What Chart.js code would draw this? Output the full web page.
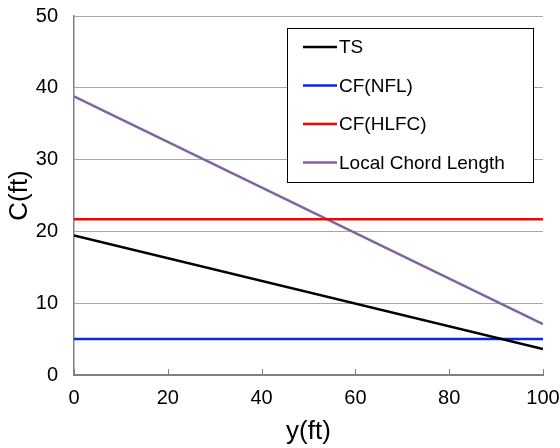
<!DOCTYPE html>
<html>
<head>
<meta charset="utf-8">
<script src="https://cdn.jsdelivr.net/npm/chart.js@4/dist/chart.umd.min.js"></script>
<style>
  html, body { margin: 0; padding: 0; background: #fff; }
  canvas { display: block; }
</style>
</head>
<body>
<canvas id="grafico" width="560" height="448"></canvas>
<script>
// Datos: posición a lo largo de la envergadura y(ft) y cuerdas C(ft)
const posicionY = [0, 100];
const cuerdaTS = [19.45, 3.6];
const cuerdaNFL = [5, 5];
const cuerdaHLFC = [21.7, 21.7];
const cuerdaLocal = [38.8, 7.1];

const etiquetas = ['TS', 'CF(NFL)', 'CF(HLFC)', 'Local Chord Length'];
const colores = ['#000000', '#0a28e6', '#ff0000', '#8064a2'];
const series = [cuerdaTS, cuerdaNFL, cuerdaHLFC, cuerdaLocal];

const fuente = 'Arial, "Liberation Sans", sans-serif';

// Marcas de graduación del eje x hacia dentro del gráfico
const marcasInternas = {
    id: 'marcasInternas',
    afterDatasetsDraw(chart) {
        const { ctx, scales: { x }, chartArea } = chart;
        ctx.save();
        ctx.strokeStyle = '#808080';
        ctx.lineWidth = 1;
        x.ticks.forEach(t => {
            const px = Math.round(x.getPixelForValue(t.value)) + 0.5;
            ctx.beginPath();
            ctx.moveTo(px, chartArea.bottom);
            ctx.lineTo(px, chartArea.bottom - 6);
            ctx.stroke();
        });
        ctx.restore();
    }
};

// Leyenda en recuadro dentro del área del gráfico
const leyendaCaja = {
    id: 'leyendaCaja',
    afterDraw(chart) {
        const ctx = chart.ctx;
        const caja = { x: 287, y: 28, w: 246, h: 154 };
        ctx.save();
        ctx.fillStyle = '#ffffff';
        ctx.fillRect(caja.x, caja.y, caja.w, caja.h);
        ctx.strokeStyle = '#000000';
        ctx.lineWidth = 1;
        ctx.strokeRect(caja.x + 0.5, caja.y + 0.5, caja.w, caja.h);
        ctx.font = '19px ' + fuente;
        ctx.textBaseline = 'middle';
        chart.data.datasets.forEach((ds, i) => {
            const yy = 47 + i * 38.5;
            ctx.strokeStyle = ds.borderColor;
            ctx.lineWidth = 2.5;
            ctx.beginPath();
            ctx.moveTo(303, yy);
            ctx.lineTo(337, yy);
            ctx.stroke();
            ctx.fillStyle = '#000000';
            ctx.fillText(ds.label, 339, yy + 1);
        });
        ctx.restore();
    }
};

new Chart(document.getElementById('grafico'), {
    type: 'line',
    data: {
        datasets: series.map((s, i) => ({
            label: etiquetas[i],
            data: s.map((v, j) => ({ x: posicionY[j], y: v })),
            borderColor: colores[i],
            borderWidth: 2.5,
            pointRadius: 0,
            fill: false,
            tension: 0
        }))
    },
    options: {
        responsive: false,
        animation: false,
        layout: { padding: { left: 0, right: 17, top: 16, bottom: 0 } },
        plugins: {
            legend: { display: false },
            tooltip: { enabled: false }
        },
        scales: {
            x: {
                type: 'linear',
                min: 0,
                max: 100,
                ticks: { stepSize: 20, padding: 11, color: '#000', font: { family: fuente, size: 20 } },
                grid: { display: false, drawTicks: false },
                border: { display: true, color: '#808080', width: 2 },
                title: { display: true, text: 'y(ft)', color: '#000', font: { family: fuente, size: 26 }, padding: { top: 0, bottom: 1 } },
                afterFit(scale) {
                    scale.height = 73;
                    scale.paddingLeft = 0;
                    scale.paddingRight = 0;
                }
            },
            y: {
                min: 0,
                max: 50,
                ticks: { stepSize: 10, padding: 16, color: '#000', font: { family: fuente, size: 20 } },
                grid: { color: '#a6a6a6', lineWidth: 1, drawTicks: false },
                border: { display: true, color: '#808080', width: 1.5 },
                title: { display: true, text: 'C(ft)', color: '#000', font: { family: fuente, size: 26 }, padding: { top: 4, bottom: 0 } },
                afterFit(scale) {
                    scale.width = 74;
                    scale.paddingTop = 0;
                    scale.paddingBottom = 0;
                }
            }
        }
    },
    plugins: [marcasInternas, leyendaCaja]
});
</script>
</body>
</html>
